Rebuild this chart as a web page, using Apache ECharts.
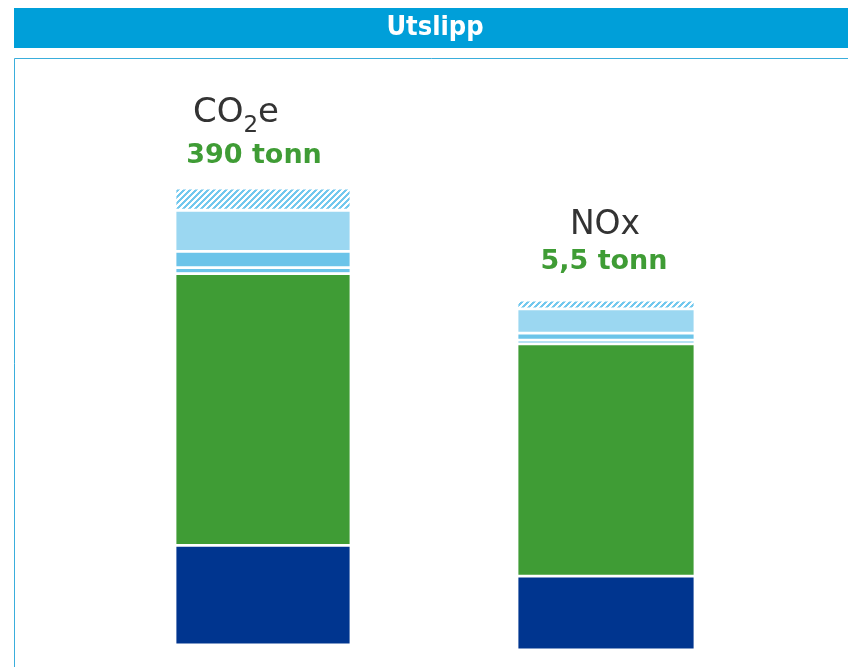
<!DOCTYPE html>
<html><head><meta charset="utf-8">
<script src="https://cdn.jsdelivr.net/npm/echarts@6/dist/echarts.min.js"></script>
<style>html,body{margin:0;padding:0;background:#fff}#c{width:848px;height:667px}</style>
</head><body><div id="c"></div>
<script>
const title = 'Utslipp';
const categories = ['CO2e', 'NOx'];
const totalLabels = ['390 tonn', '5,5 tonn'];
const totals = [390, 5.5];
const segmentNames = ['seg1', 'seg2', 'seg3', 'seg4', 'seg5', 'seg6'];
const seg1 = [85, 1.16];
const seg2 = [232, 3.65];
const seg3 = [5, 0.06];
const seg4 = [14, 0.11];
const seg5 = [35, 0.38];
const seg6 = [19, 0.14];

const segData = [seg1, seg2, seg3, seg4, seg5, seg6];

// hatch pattern
const pc = document.createElement('canvas');
pc.width = 6; pc.height = 6;
const pctx = pc.getContext('2d');
pctx.fillStyle = '#ffffff'; pctx.fillRect(0, 0, 6, 6);
pctx.fillStyle = '#72c8ee';
for (let x = 0; x < 6; x++) for (let y = 0; y < 6; y++) {
  if (((x + y) % 6) < 3) pctx.fillRect(x, y, 1, 1);
}
const segColors = ['#00358f', '#3f9c35', '#6cc4e9', '#6cc4e9', '#9bd7f1', { image: pc, repeat: 'repeat' }];

const grids = [
  { left: 175, width: 176, top: 188, bottom: 667 - 645 },
  { left: 517, width: 178, top: 300, bottom: 667 - 650 }
];

const series = [];
for (let g = 0; g < 2; g++) {
  segData.forEach((arr, k) => {
    series.push({
      type: 'bar', name: segmentNames[k], stack: 's' + g,
      xAxisIndex: g, yAxisIndex: g,
      barWidth: '100%',
      data: [arr[g]],
      itemStyle: { color: segColors[k], borderColor: '#ffffff', borderWidth: 1.4 },
      emphasis: { disabled: true },
      silent: true
    });
  });
}

const chart = echarts.init(document.getElementById('c'));
chart.setOption({
  animation: false,
  grid: grids,
  xAxis: [0, 1].map(g => ({ type: 'category', gridIndex: g, data: [categories[g]], show: false })),
  yAxis: [0, 1].map(g => ({ type: 'value', gridIndex: g, min: 0, max: totals[g], show: false })),
  series: series,
  graphic: [
    { type: 'rect', shape: { x: 14, y: 8, width: 840, height: 40 }, style: { fill: '#009fd9' }, silent: true },
    { type: 'rect', shape: { x: 14.5, y: 58.5, width: 840, height: 620 }, style: { fill: 'none', stroke: '#3aaedc', lineWidth: 1 }, silent: true },
    { type: 'text', x: 435, y: 28, style: { text: title, fill: '#ffffff', font: 'bold 27px "DejaVu Sans Condensed", "DejaVu Sans", sans-serif', align: 'center', verticalAlign: 'middle' } },
    { type: 'text', x: 236, y: 113, style: {
        text: '{a|CO}{b|2}{a|e}', align: 'center', verticalAlign: 'middle',
        rich: {
          a: { fontSize: 34, fontFamily: '"DejaVu Sans", sans-serif', fill: '#333333', height: 44 },
          b: { fontSize: 23, fontFamily: '"DejaVu Sans", sans-serif', fill: '#333333', height: 44, padding: [26, 0, 0, 0] }
        } } },
    { type: 'text', x: 254, y: 156, style: { text: totalLabels[0], fill: '#3f9c35', font: 'bold 27px "DejaVu Sans", sans-serif', align: 'center', verticalAlign: 'middle' } },
    { type: 'text', x: 605, y: 225, style: { text: categories[1], fill: '#333333', font: '33px "DejaVu Sans", sans-serif', align: 'center', verticalAlign: 'middle' } },
    { type: 'text', x: 604, y: 262, style: { text: totalLabels[1], fill: '#3f9c35', font: 'bold 27px "DejaVu Sans", sans-serif', align: 'center', verticalAlign: 'middle' } }
  ]
});
</script></body></html>
